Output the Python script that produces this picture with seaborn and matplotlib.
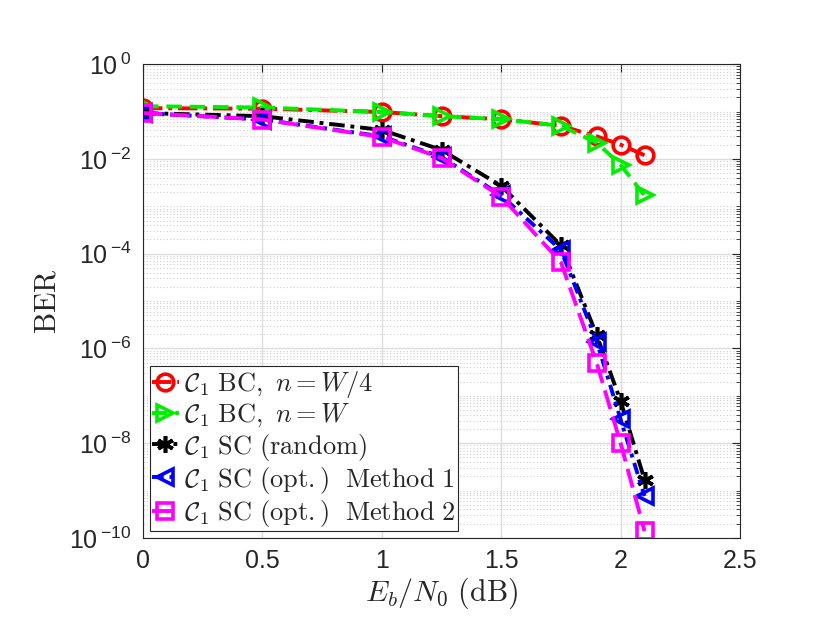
import numpy as np
import pandas as pd
import matplotlib
matplotlib.use("Agg")
import matplotlib.pyplot as plt
import matplotlib.ticker as mticker
import seaborn as sns

# Eb/N0 points (dB)
ebn0 = [0, 0.5, 1.0, 1.25, 1.5, 1.75, 1.9, 2.0, 2.1]

# BER
ber_bc_w4 = [0.118, 0.115, 0.098, 0.080, 0.069, 0.050, 0.030, 0.020, 0.012]
ber_bc_w = [0.130, 0.122, 0.098, 0.080, 0.069, 0.050, 0.022, 0.0075, 0.0017]
ber_sc_rand = [0.093, 0.080, 0.041, 0.0155, 0.0027, 1.5e-4, 1.9e-6, 7.8e-8, 1.7e-9]
ber_sc_m1 = [0.093, 0.068, 0.030, 0.011, 0.0017, 1.2e-4, 1.4e-6, 3.2e-8, 7.7e-10]
ber_sc_m2 = [0.093, 0.068, 0.029, 0.0105, 0.0016, 6.6e-5, 4.9e-7, 1.0e-8, 1.4e-10]

labels = [r"$\mathcal{C}_1\ \mathrm{BC},\ n=W/4$",
          r"$\mathcal{C}_1\ \mathrm{BC},\ n=W$",
          r"$\mathcal{C}_1\ \mathrm{SC\ (random)}$",
          r"$\mathcal{C}_1\ \mathrm{SC\ (opt.)\ \ Method\ 1}$",
          r"$\mathcal{C}_1\ \mathrm{SC\ (opt.)\ \ Method\ 2}$"]

sns.set_style("white")
plt.rcParams["font.family"] = ["Liberation Sans", "DejaVu Sans"]
plt.rcParams["mathtext.fontset"] = "cm"

fig = plt.figure(figsize=(8.3, 6.42), dpi=100)
ax = fig.add_axes([0.1723, 0.162, 0.7193, 0.738])

styles = [
    (ber_bc_w4, "#ff0000", "o", (0, (5, 1.5, 1, 1.5))),
    (ber_bc_w, "#00ee00", ">", (0, (4, 2))),
    (ber_sc_rand, "#000000", (6, 2, 0), (0, (4, 1.5, 1, 1.5))),
    (ber_sc_m1, "#0000ff", "<", (0, (3, 1.5, 1, 1.5))),
    (ber_sc_m2, "#ff00ff", "s", (0, (5, 2))),
]

for (vals, col, mk, ls), lab in zip(styles, labels):
    df = pd.DataFrame({"EbN0": ebn0, "BER": vals})
    sns.lineplot(data=df, x="EbN0", y="BER", ax=ax, color=col, marker=mk,
                 linestyle=ls, linewidth=2.8, markersize=12,
                 markerfacecolor="none" if mk != (6, 2, 0) else col,
                 markeredgecolor=col, markeredgewidth=2.6, label=lab)

ax.set_yscale("log")
ax.set_xlim(0, 2.5)
ax.set_ylim(1e-10, 1)
ax.set_xticks([0, 0.5, 1, 1.5, 2, 2.5])
ax.set_xticklabels(["0", "0.5", "1", "1.5", "2", "2.5"])
ax.yaxis.set_major_locator(mticker.FixedLocator([1e-10, 1e-8, 1e-6, 1e-4, 1e-2, 1]))
ax.yaxis.set_major_formatter(mticker.FuncFormatter(
    lambda v, p: "10$^{\\,\\mathregular{%d}}$" % int(round(np.log10(v)))))
minors = [m * 10.0 ** e for e in range(-10, 0) for m in range(1, 10) if not (m == 1 and e % 2 == 0)]
ax.yaxis.set_minor_locator(mticker.FixedLocator(minors))
ax.yaxis.set_minor_formatter(mticker.NullFormatter())

ax.grid(True, which="major", color="#dddddd", linewidth=1.0, linestyle="-")
ax.grid(True, which="minor", axis="y", color="#d0d0d0", linewidth=0.8, linestyle=(0, (1, 2)))
ax.set_axisbelow(True)

ax.tick_params(which="both", direction="in", top=True, right=True, colors="#262626",
               labelsize=18, pad=8)
ax.tick_params(which="major", length=6, width=0.8)
ax.tick_params(which="minor", length=3, width=0.6)
for s in ax.spines.values():
    s.set_color("#262626")
    s.set_linewidth(0.8)

ax.set_xlabel(r"$E_b/N_0\ \mathrm{(dB)}$", fontsize=21.5, color="#262626", labelpad=2)
ax.set_ylabel(r"$\mathrm{BER}$", fontsize=21.5, color="#262626", labelpad=6)

leg = ax.legend(loc="lower left", bbox_to_anchor=(0.0, 0.0), fontsize=19,
                frameon=True, fancybox=False, edgecolor="#262626", framealpha=1,
                borderaxespad=0.25, handlelength=1.0, handletextpad=0.2,
                labelspacing=0.08, borderpad=0.1)
leg.get_frame().set_linewidth(0.8)

fig.savefig("out.png", dpi=100, facecolor="white")
